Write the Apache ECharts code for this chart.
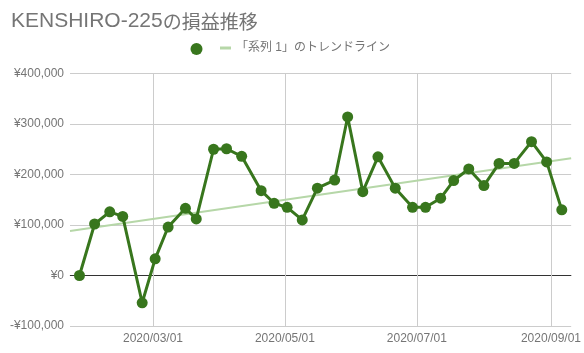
<!DOCTYPE html>
<html>
<head>
<meta charset="utf-8">
<script src="https://cdn.jsdelivr.net/npm/echarts@6/dist/echarts.min.js"></script>
<style>
html,body{margin:0;padding:0;background:#fff;}
#chart{width:584px;height:353px;}
</style>
</head>
<body>
<div id="chart"></div>
<script>
// ---- data ----
const titleLatin = 'KENSHIRO-225';
const titleJa = 'の損益推移';
const seriesName = ' ';
const trendName = '「系列 1」のトレンドライン';
const dates = ['2020-01-27','2020-02-03','2020-02-10','2020-02-16','2020-02-25','2020-03-02','2020-03-08','2020-03-16','2020-03-21','2020-03-29','2020-04-04','2020-04-11','2020-04-20','2020-04-26','2020-05-02','2020-05-09','2020-05-16','2020-05-24','2020-05-30','2020-06-06','2020-06-13','2020-06-21','2020-06-29','2020-07-05','2020-07-12','2020-07-18','2020-07-25','2020-08-01','2020-08-08','2020-08-15','2020-08-23','2020-08-30','2020-09-06'];
const values = [0,102000,126000,117000,-54000,33000,96000,133000,112000,250000,251000,236000,168000,143000,135000,110000,173000,189000,314000,166000,235000,173000,135000,135000,153000,188000,211000,178000,222000,222000,265000,225000,130000];
const trendDates = ['2020-01-22T15:00:00','2020-09-10T08:00:00'];
const trendValues = [88000,232000];
const xMin = '2020-01-22T15:00:00';
const xMax = '2020-09-10T08:00:00';
const xTicks = ['2020/03/01','2020/05/01','2020/07/01','2020/09/01'];
const yTicks = [-100000,0,100000,200000,300000,400000];

const FONT = "'Liberation Sans', Arial, 'Noto Sans CJK JP', sans-serif";
const GRAY = '#757575';

function pad(n){return (n<10?'0':'')+n;}
function fmtDate(v){const d=new Date(v);return d.getFullYear()+'/'+pad(d.getMonth()+1)+'/'+pad(d.getDate());}
function fmtYen(v){return (v<0?'-':'')+'¥'+Math.abs(v).toLocaleString('en-US');}

const chart = echarts.init(document.getElementById('chart'), null, {renderer:'canvas'});
chart.setOption({
  animation:false,
  backgroundColor:'#fff',
  textStyle:{fontFamily:FONT},
  title:{
    text:'{a|'+titleLatin+'}{b|'+titleJa+'}', left:11, top:11, padding:0,
    textStyle:{
      fontFamily:FONT, fontSize:21, fontWeight:'normal', color:GRAY,
      rich:{
        a:{fontFamily:FONT, fontSize:21, color:GRAY},
        b:{fontFamily:"'Noto Sans CJK JP', sans-serif", fontSize:19, color:GRAY}
      }
    }
  },
  legend:[{
    data:[{name:seriesName, icon:'circle'}],
    left:190.5, top:43, itemWidth:12, itemHeight:12, padding:0,
    formatter:function(){return '';},
    selectedMode:false
  },{
    data:[{name:trendName, icon:'rect'}],
    left:220, top:42, itemWidth:11, itemHeight:3, itemGap:5, padding:0,
    textStyle:{fontFamily:FONT, fontSize:12, color:GRAY},
    selectedMode:false
  }],
  grid:{left:70, right:11, top:73.5, bottom:27, containLabel:false},
  xAxis:{
    type:'time',
    min:xMin, max:xMax,
    axisLine:{show:true, lineStyle:{color:'#cccccc', width:1}},
    axisTick:{show:false},
    splitLine:{show:false},
    axisLabel:{
      formatter:function(v){const s=fmtDate(v);return xTicks.indexOf(s)>=0?s:'';},
      color:GRAY, fontFamily:FONT, fontSize:12, margin:7,
      hideOverlap:false
    }
  },
  yAxis:{
    type:'value',
    min:yTicks[0], max:yTicks[yTicks.length-1], interval:100000,
    axisLine:{show:false},
    axisTick:{show:false},
    splitLine:{show:true, lineStyle:{color:'#cccccc', width:1}},
    axisLabel:{formatter:fmtYen, color:GRAY, fontFamily:FONT, fontSize:12, margin:6}
  },
  series:[{
    name:trendName,
    type:'line',
    data:trendDates.map((d,i)=>[d,trendValues[i]]),
    showSymbol:false,
    symbol:'none',
    lineStyle:{color:'#b6d7a8', width:2},
    itemStyle:{color:'#b6d7a8'},
    z:2,
    silent:true,
    markLine:{
      silent:true, symbol:['none','none'],
      label:{show:false},
      z:1,
      data:[
        {yAxis:0, lineStyle:{color:'#333333', width:1, type:'solid'}}
      ].concat(xTicks.map(t=>({xAxis:t.replace(/\//g,'-'), lineStyle:{color:'#cccccc', width:1, type:'solid'}})))
    }
  },{
    name:seriesName,
    type:'line',
    data:dates.map((d,i)=>[d,values[i]]),
    symbol:'circle',
    symbolSize:11,
    showAllSymbol:true,
    lineStyle:{color:'#38761d', width:3},
    itemStyle:{color:'#38761d'},
    z:3
  }]
});
</script>
</body>
</html>
